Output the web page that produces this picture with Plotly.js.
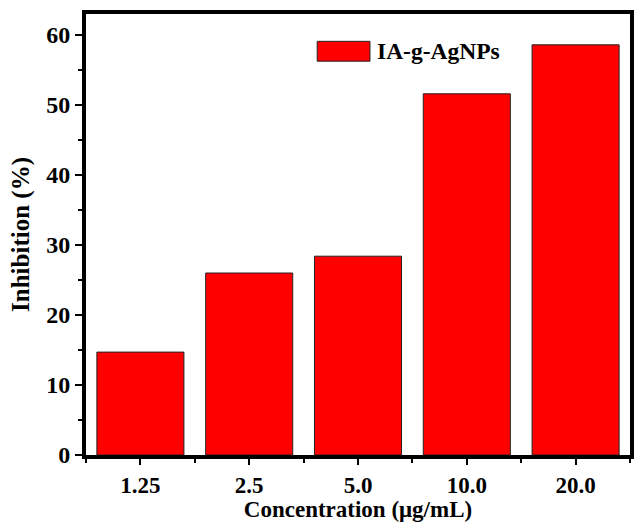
<!DOCTYPE html>
<html>
<head>
<meta charset="utf-8">
<script src="https://cdn.plot.ly/plotly-3.0.1.min.js"></script>
<style>
  html, body { margin: 0; padding: 0; background: #fff; }
  #chart { width: 634px; height: 522px; }
</style>
</head>
<body>
<div id="chart"></div>
<script>
// Inhibition of IA-g-AgNPs at each concentration
const concentrations = ['1.25', '2.5', '5.0', '10.0', '20.0'];
const inhibition = [14.7, 26.0, 28.4, 51.6, 58.6];
const seriesName = 'IA-g-AgNPs';

const positions = concentrations.map((_, i) => i);
const serif = 'Liberation Serif, Times New Roman, serif';

const trace = {
  type: 'bar',
  x: positions,
  y: inhibition,
  width: 0.8,
  name: seriesName,
  marker: { color: '#ff0000', line: { color: '#222', width: 1 } },
  showlegend: false,
  hoverinfo: 'y'
};

const layout = {
  width: 634,
  height: 522,
  margin: { l: 86, r: 4, t: 14, b: 67 },
  paper_bgcolor: '#fff',
  plot_bgcolor: '#fff',
  font: { family: serif, color: '#000', size: 20 },
  xaxis: {
    range: [-0.5, 4.5],
    tickmode: 'array',
    tickvals: positions,
    ticktext: concentrations,
    ticks: 'outside',
    ticklen: 6,
    tickwidth: 2,
    tickcolor: '#000',
    minor: { tick0: 0.5, dtick: 1, ticks: 'outside', ticklen: 4, tickwidth: 2, tickcolor: '#000' },
    showline: true,
    linewidth: 4,
    linecolor: '#000',
    mirror: true,
    showgrid: false,
    zeroline: false,
    tickfont: { family: serif, size: 23, weight: 'bold' },
    title: { text: 'Concentration (μg/mL)', font: { family: serif, size: 23, weight: 'bold' }, standoff: 3 }
  },
  yaxis: {
    range: [0, 63],
    tickmode: 'linear',
    tick0: 0,
    dtick: 10,
    ticks: 'outside',
    ticklen: 7,
    tickwidth: 2,
    tickcolor: '#000',
    minor: { dtick: 5, ticks: 'outside', ticklen: 4, tickwidth: 2, tickcolor: '#000' },
    showline: true,
    linewidth: 4,
    linecolor: '#000',
    mirror: true,
    showgrid: false,
    zeroline: false,
    tickfont: { family: serif, size: 24, weight: 'bold' },
    title: { text: 'Inhibition (%)', font: { family: serif, size: 25, weight: 'bold' }, standoff: 10 }
  },
  // legend swatch and label
  shapes: [{
    type: 'rect', xref: 'paper', yref: 'paper',
    x0: 0.425, x1: 0.522, y0: 0.893, y1: 0.938,
    fillcolor: '#ff0000', line: { color: '#222', width: 1 }
  }],
  annotations: [{
    xref: 'paper', yref: 'paper', x: 0.532, y: 0.916,
    xanchor: 'left', yanchor: 'middle', showarrow: false,
    text: '<b>' + seriesName + '</b>',
    font: { family: serif, size: 23.5, color: '#000' }
  }]
};

Plotly.newPlot('chart', [trace], layout, { displayModeBar: false, staticPlot: true });
</script>
</body>
</html>
